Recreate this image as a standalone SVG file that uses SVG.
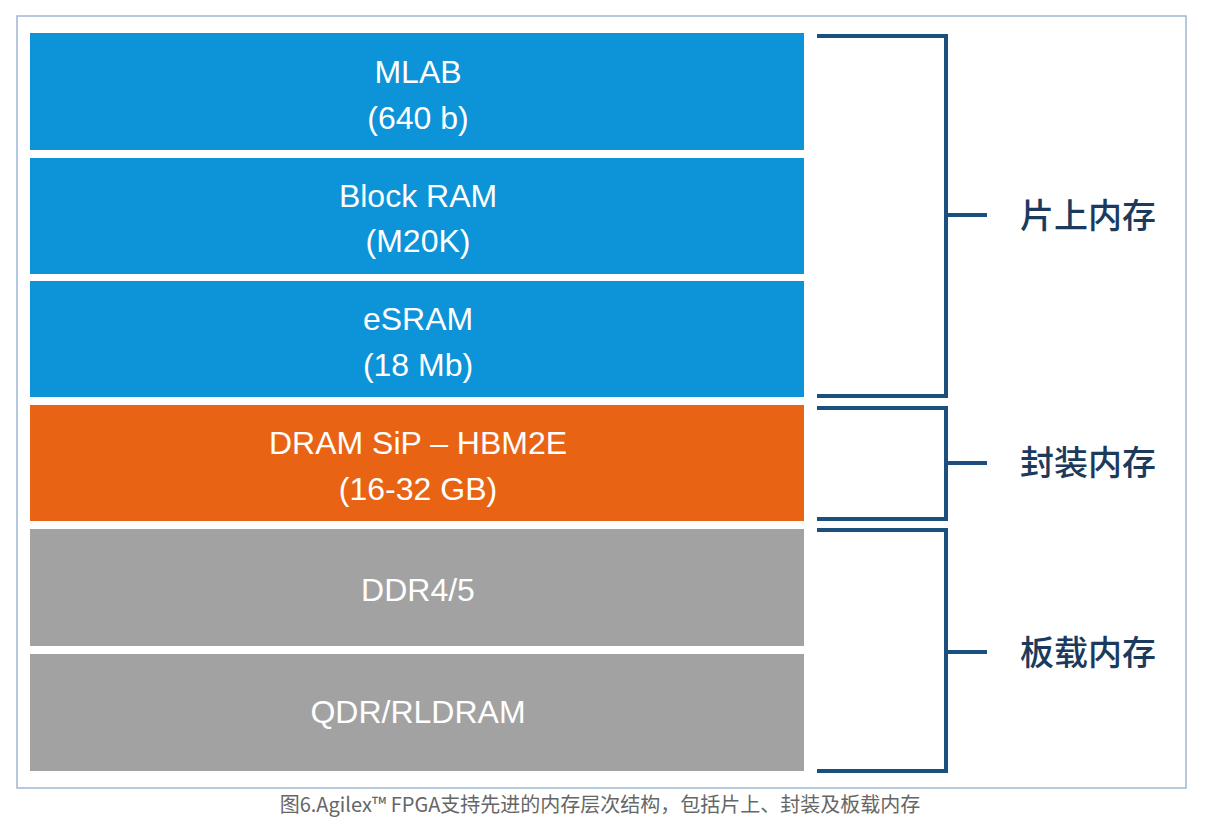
<svg xmlns="http://www.w3.org/2000/svg" width="1209" height="832" viewBox="0 0 1209 832">
<style>
.t{font-family:"Liberation Sans",Arial,sans-serif;font-size:32px;fill:#fff;text-anchor:middle}
.b{stroke:#1b4f80;stroke-width:4;fill:none}
.c{font-family:"Noto Sans CJK SC",sans-serif;font-size:34px;fill:#1b3a5c;font-weight:500}
</style>
<rect x="0" y="0" width="1209" height="832" fill="#fff"/>
<rect x="17" y="16" width="1169" height="772" fill="#fff" stroke="#9fb7cf" stroke-width="1.5"/>
<g id="mlab"><rect x="30" y="33" width="774" height="117" fill="#0d93d8"/><text class="t" x="418" y="83">MLAB</text><text class="t" x="418" y="129">(640 b)</text></g>
<g id="bram"><rect x="30" y="158" width="774" height="116" fill="#0d93d8"/><text class="t" x="418" y="207">Block RAM</text><text class="t" x="418" y="252">(M20K)</text></g>
<g id="esram"><rect x="30" y="281" width="774" height="116" fill="#0d93d8"/><text class="t" x="418" y="330">eSRAM</text><text class="t" x="418" y="376">(18 Mb)</text></g>
<g id="dram"><rect x="30" y="405" width="774" height="116" fill="#e86414"/><text class="t" x="418" y="454">DRAM SiP – HBM2E</text><text class="t" x="418" y="500">(16-32 GB)</text></g>
<g id="ddr"><rect x="30" y="529" width="774" height="117" fill="#a2a2a2"/><text class="t" x="418" y="601">DDR4/5</text></g>
<g id="qdr"><rect x="30" y="654" width="774" height="117" fill="#a2a2a2"/><text class="t" x="418" y="723">QDR/RLDRAM</text></g>
<g id="connectors">
<path class="b" d="M817 36H946V396H817M946 215H987"/>
<path class="b" d="M817 408H946V519H817M946 463H987"/>
<path class="b" d="M817 530H946V771H817M946 652H987"/>
</g>
<g id="labels">
<text class="c" x="1020" y="228">片上内存</text>
<text class="c" x="1020" y="475">封装内存</text>
<text class="c" x="1020" y="665">板载内存</text>
</g>
<text x="600" y="812" font-family="'Noto Sans CJK SC',sans-serif" font-size="20" fill="#666" text-anchor="middle">图6.Agilex™ FPGA支持先进的内存层次结构，包括片上、封装及板载内存</text>
</svg>
